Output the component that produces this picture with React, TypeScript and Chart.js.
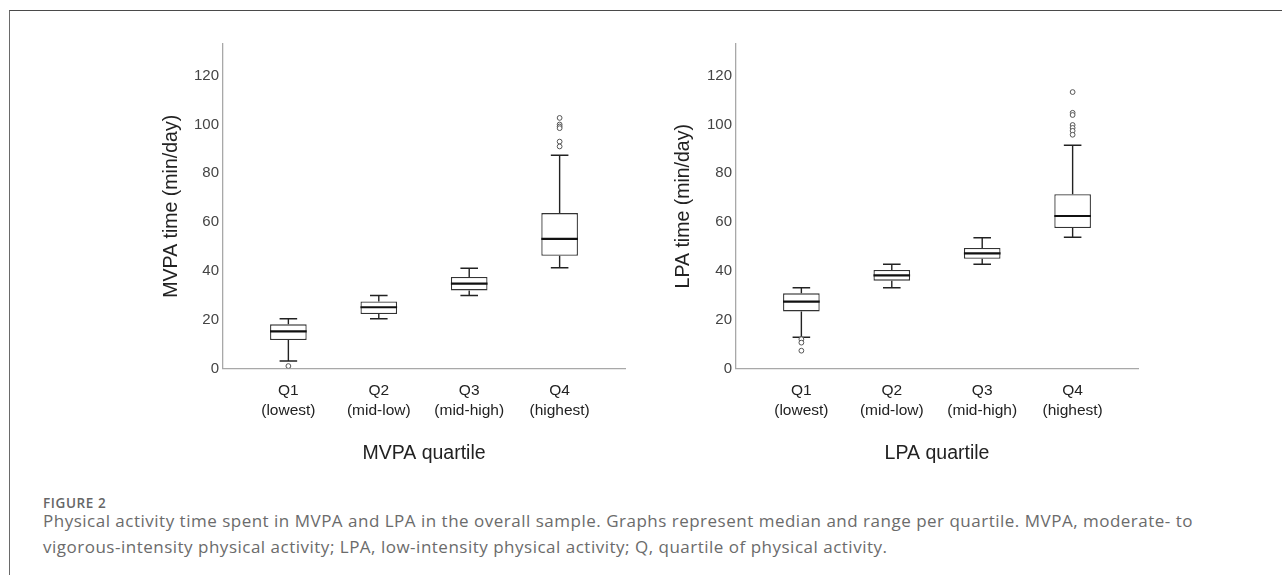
import React, { useEffect, useRef } from "react";
import { Chart, registerables } from "chart.js";

Chart.register(...registerables);
Chart.defaults.font.family = '"Liberation Sans", Arial, sans-serif';

// ---- data ----
const quartilePositions = [0, 1, 2, 3];
const quartileLabels = [
  ["Q1", "(lowest)"],
  ["Q2", "(mid-low)"],
  ["Q3", "(mid-high)"],
  ["Q4", "(highest)"],
];
const yTickValues = [0, 20, 40, 60, 80, 100, 120];

const mvpaMin = [3.1, 20.4, 29.9, 41.3];
const mvpaQ1 = [11.7, 22.3, 32.0, 46.2];
const mvpaMedian = [15.2, 25.1, 34.8, 53.1];
const mvpaQ3 = [18.1, 27.5, 37.5, 63.7];
const mvpaMax = [20.4, 29.9, 41.1, 87.4];
const mvpaOutlierX = [0, 3, 3, 3, 3, 3, 3];
const mvpaOutlierY = [1.0, 102.7, 100.0, 99.2, 98.5, 93.0, 91.0];

const lpaMin = [12.8, 33.1, 42.7, 53.8];
const lpaQ1 = [23.4, 36.0, 45.0, 57.6];
const lpaMedian = [27.4, 38.2, 47.2, 62.5];
const lpaQ3 = [30.8, 40.4, 49.4, 71.4];
const lpaMax = [33.1, 42.7, 53.6, 91.5];
const lpaOutlierX = [0, 0, 0, 3, 3, 3, 3, 3, 3, 3];
const lpaOutlierY = [12.0, 10.6, 7.3, 113.3, 104.8, 103.9, 99.8, 98.6, 97.4, 95.8];

// ---- plugin drawing whiskers & medians through the chart scales ----
const boxWhiskerPlugin = {
  id: "boxWhiskers",
  beforeDatasetsDraw(chart: any) {
    const ds = chart.data.datasets[0];
    const meta = chart.getDatasetMeta(0);
    const xs = chart.scales.x;
    const ys = chart.scales.y;
    const ctx = chart.ctx;
    ctx.save();
    ctx.strokeStyle = "#222";
    ctx.lineWidth = 1.4;
    ds.positions.forEach((p: number, i: number) => {
      const px = xs.getPixelForValue(p);
      const el = meta.data[i];
      const half = el ? el.width * 0.24 : 9;
      const yMin = ys.getPixelForValue(ds.mins[i]);
      const yQ1 = ys.getPixelForValue(ds.q1s[i]);
      const yQ3 = ys.getPixelForValue(ds.q3s[i]);
      const yMax = ys.getPixelForValue(ds.maxs[i]);
      ctx.beginPath();
      ctx.moveTo(px, yMin);
      ctx.lineTo(px, yQ1);
      ctx.moveTo(px, yQ3);
      ctx.lineTo(px, yMax);
      ctx.moveTo(px - half, yMin);
      ctx.lineTo(px + half, yMin);
      ctx.moveTo(px - half, yMax);
      ctx.lineTo(px + half, yMax);
      ctx.stroke();
    });
    ctx.restore();
  },
  afterDatasetDraw(chart: any, args: any) {
    if (args.index !== 0) return;
    const ds = chart.data.datasets[0];
    const meta = chart.getDatasetMeta(0);
    const xs = chart.scales.x;
    const ys = chart.scales.y;
    const ctx = chart.ctx;
    ctx.save();
    ctx.strokeStyle = "#111";
    ctx.lineWidth = 2.2;
    ds.positions.forEach((p: number, i: number) => {
      const px = xs.getPixelForValue(p);
      const el = meta.data[i];
      const half = el ? el.width / 2 : 18;
      const ym = ys.getPixelForValue(ds.medians[i]);
      ctx.beginPath();
      ctx.moveTo(px - half, ym);
      ctx.lineTo(px + half, ym);
      ctx.stroke();
    });
    ctx.restore();
  },
};

function makeConfig(
  yTitle: string,
  xTitle: string,
  mins: number[],
  q1s: number[],
  medians: number[],
  q3s: number[],
  maxs: number[],
  outX: number[],
  outY: number[],
  yTitlePad: number
): any {
  return {
    type: "bar",
    data: {
      datasets: [
        {
          type: "bar",
          data: quartilePositions.map((p, i) => ({ x: p, y: [q1s[i], q3s[i]] })),
          positions: quartilePositions,
          mins,
          q1s,
          medians,
          q3s,
          maxs,
          backgroundColor: "#ffffff",
          borderColor: "#333",
          borderWidth: 1.3,
          borderSkipped: false,
          barPercentage: 0.405,
          categoryPercentage: 1,
        },
        {
          type: "scatter",
          data: outX.map((x, i) => ({ x, y: outY[i] })),
          pointRadius: 2.4,
          pointBorderWidth: 1,
          pointBorderColor: "#555",
          pointBackgroundColor: "#fff",
          showLine: false,
        },
      ],
    },
    options: {
      responsive: false,
      animation: false,
      events: [],
      layout: { padding: { top: 24, right: 2, left: 0, bottom: 0 } },
      plugins: { legend: { display: false }, tooltip: { enabled: false } },
      scales: {
        x: {
          type: "linear",
          min: -0.723,
          max: 3.723,
          offset: false,
          afterBuildTicks: (s: any) => {
            s.ticks = quartilePositions.map((v) => ({ value: v }));
          },
          afterFit: (s: any) => {
            s.height = 121.5;
          },
          ticks: {
            autoSkip: false,
            maxRotation: 0,
            minRotation: 0,
            padding: 12.5,
            color: "#222",
            font: { size: 15.5, lineHeight: 1.27 },
            callback: (v: number) => quartileLabels[v],
          },
          grid: { display: false, drawTicks: false },
          border: { display: true, color: "#a8a8a8", width: 1.3 },
          title: {
            display: true,
            text: xTitle,
            color: "#222",
            font: { size: 19.5, lineHeight: 1.2 },
            padding: { top: 0, bottom: 25 },
          },
        },
        y: {
          type: "linear",
          min: 0,
          max: 133,
          afterBuildTicks: (s: any) => {
            s.ticks = yTickValues.map((v) => ({ value: v }));
          },
          afterFit: (s: any) => {
            s.width = 93;
          },
          ticks: {
            padding: 4,
            color: "#444",
            font: { size: 15 },
          },
          grid: { display: false, drawTicks: false },
          border: { display: true, color: "#a8a8a8", width: 1.3 },
          title: {
            display: true,
            text: yTitle,
            color: "#222",
            font: { size: 19.5, lineHeight: 1.2 },
            padding: { top: yTitlePad, bottom: 0 },
          },
        },
      },
    },
    plugins: [boxWhiskerPlugin],
  };
}

function BoxChart({ config, left, top }: { config: any; left: number; top: number }) {
  const ref = useRef<HTMLCanvasElement | null>(null);
  useEffect(() => {
    if (!ref.current) return;
    const chart = new Chart(ref.current, config);
    return () => chart.destroy();
  }, [config]);
  return (
    <canvas
      ref={ref}
      width={500}
      height={470}
      style={{ position: "absolute", left, top, width: 500, height: 470 }}
    />
  );
}

const mvpaConfig = makeConfig(
  "MVPA time (min/day)",
  "MVPA quartile",
  mvpaMin,
  mvpaQ1,
  mvpaMedian,
  mvpaQ3,
  mvpaMax,
  mvpaOutlierX,
  mvpaOutlierY,
  30
);
const lpaConfig = makeConfig(
  "LPA time (min/day)",
  "LPA quartile",
  lpaMin,
  lpaQ1,
  lpaMedian,
  lpaQ3,
  lpaMax,
  lpaOutlierX,
  lpaOutlierY,
  28.5
);

export default function App() {
  return (
    <div
      style={{
        position: "fixed",
        left: 0,
        top: 0,
        width: 1282,
        height: 575,
        overflow: "hidden",
        background: "#fff",
      }}
    >
      <div
        style={{
          position: "absolute",
          left: 9,
          top: 10,
          right: -2,
          bottom: -2,
          borderTop: "1px solid #4a4a4a",
          borderLeft: "1px solid #6a6a6a",
        }}
      />
      <BoxChart config={mvpaConfig} left={130} top={20} />
      <BoxChart config={lpaConfig} left={643} top={20} />
      <div
        style={{
          position: "absolute",
          left: 43,
          top: 494,
          fontFamily: '"Open Sans", sans-serif',
          fontSize: 13.5,
          fontWeight: 600,
          letterSpacing: "0.6px",
          lineHeight: "18px",
          color: "#666",
        }}
      >
        FIGURE 2
      </div>
      <div
        style={{
          position: "absolute",
          left: 43,
          top: 508,
          fontFamily: '"Open Sans", sans-serif',
          fontSize: 17,
          letterSpacing: "0.5px",
          lineHeight: "26px",
          color: "#6b6b6b",
          whiteSpace: "nowrap",
        }}
      >
        Physical activity time spent in MVPA and LPA in the overall sample. Graphs represent median and range per
        quartile. MVPA, moderate- to
        <br />
        vigorous-intensity physical activity; LPA, low-intensity physical activity; Q, quartile of physical activity.
      </div>
    </div>
  );
}
